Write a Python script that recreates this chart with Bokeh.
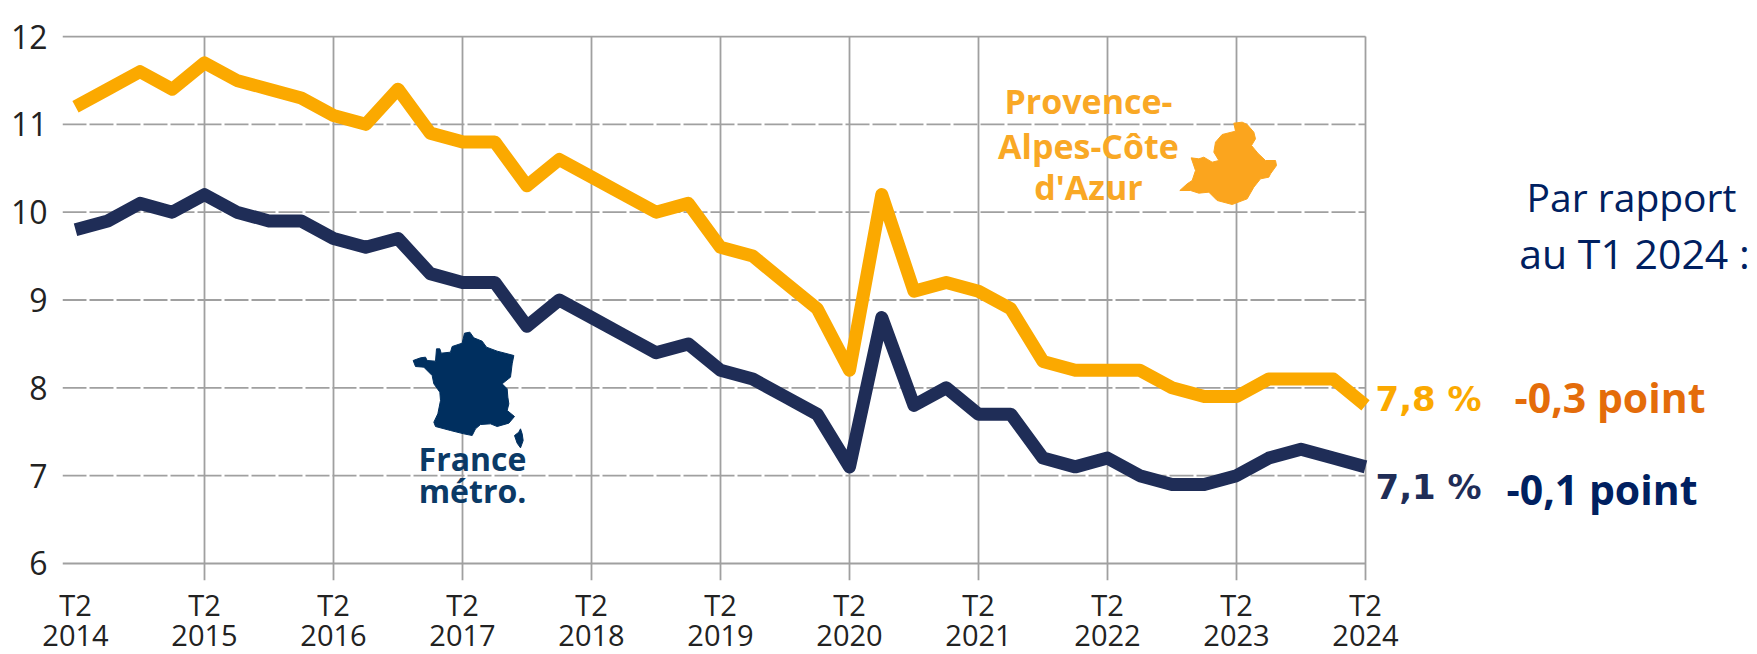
from bokeh.plotting import figure
from bokeh.embed import file_html
from bokeh.resources import INLINE
from bokeh.models import Range1d, FixedTicker, LinearAxis
from bokeh.core.properties import value

years = [2014, 2015, 2016, 2017, 2018, 2019, 2020, 2021, 2022, 2023, 2024]
y_ticks = [6, 7, 8, 9, 10, 11, 12]
paca = [11.2, 11.4, 11.6, 11.4, 11.7, 11.5, 11.4, 11.3, 11.1, 11.0, 11.4, 10.9,
        10.8, 10.8, 10.3, 10.6, 10.4, 10.2, 10.0, 10.1, 9.6, 9.5, 9.2, 8.9,
        8.2, 10.2, 9.1, 9.2, 9.1, 8.9, 8.3, 8.2, 8.2, 8.2, 8.0, 7.9,
        7.9, 8.1, 8.1, 8.1, 7.8]
france = [9.8, 9.9, 10.1, 10.0, 10.2, 10.0, 9.9, 9.9, 9.7, 9.6, 9.7, 9.3,
          9.2, 9.2, 8.7, 9.0, 8.8, 8.6, 8.4, 8.5, 8.2, 8.1, 7.9, 7.7,
          7.1, 8.8, 7.8, 8.0, 7.7, 7.7, 7.2, 7.1, 7.2, 7.0, 6.9, 6.9,
          7.0, 7.2, 7.3, 7.2, 7.1]
quarters = list(range(len(paca)))

# silhouettes (pixels inside a crop at 3x)
france_shape = [(38,120),(60,112),(75,110),(80,120),(105,122),(108,85),(118,85),(122,98),(150,95),(155,78),
    (185,68),(192,38),(208,35),(220,52),(245,62),(258,80),(290,92),(340,105),(335,130),(330,170),(305,190),
    (320,205),(322,230),(325,250),(320,270),(342,288),(325,308),(290,318),(270,310),(240,312),(225,325),
    (215,345),(190,340),(150,330),(105,318),(100,305),(112,280),(120,240),(118,215),(100,190),(95,165),
    (70,140),(45,138)]
corsica_shape = [(360,325),(365,340),(368,360),(360,382),(350,368),(342,345),(355,335)]
paca_shape = [(190,38),(215,35),(230,42),(250,65),(255,85),(243,105),(262,128),(285,150),(315,150),(318,165),
    (300,190),(295,200),(270,205),(250,230),(230,265),(185,282),(140,270),(115,245),(85,248),(60,240),
    (28,240),(50,220),(65,210),(75,180),(62,142),(85,145),(100,140),(125,155),(145,150),(130,125),(135,95),
    (155,72),(195,62)]

GOLD = "#FBA900"
NAVY = "#1F2D57"
GRID = "#A0A0A0"
TICK = "#222222"

PX_Q = 32.25
PX_U = 87.83
def dx(px):
    return (px - 75) / PX_Q
def dy(py):
    return 12 - (py - 36) / PX_U

# the frame runs to the right edge so that the notes can sit in it
p = figure(frame_width=1695, frame_height=545, min_border_left=62, min_border_right=0,
           min_border_top=35, min_border_bottom=74, output_backend="svg", toolbar_location=None,
           x_range=Range1d(dx(62), dx(1757)), y_range=Range1d(dy(580), dy(35)))
p.outline_line_color = None
p.grid.visible = False

tick_pos = [i * 4 for i in range(len(years))]

def style_x(ax, overrides, standoff):
    ax.ticker = FixedTicker(ticks=tick_pos)
    ax.major_label_overrides = overrides
    ax.axis_line_color = None
    ax.major_tick_line_color = None
    ax.minor_tick_line_color = None
    ax.major_tick_in = 0
    ax.major_tick_out = 0
    ax.major_label_standoff = standoff
    ax.major_label_text_font = "Open Sans"
    ax.major_label_text_font_size = "29px"
    ax.major_label_text_color = TICK

style_x(p.xaxis[0], {t: "T2" for t in tick_pos}, 4)
year_axis = LinearAxis()
style_x(year_axis, {t: str(y) for t, y in zip(tick_pos, years)}, -2)
p.add_layout(year_axis, "below")

yax = p.yaxis[0]
yax.ticker = FixedTicker(ticks=y_ticks)
yax.axis_line_color = None
yax.major_tick_line_color = None
yax.minor_tick_line_color = None
yax.major_tick_in = 0
yax.major_tick_out = 0
yax.major_label_standoff = 15
yax.major_label_text_font = "Open Sans"
yax.major_label_text_font_size = "32px"
yax.major_label_text_color = TICK

p.segment(x0=tick_pos[1:], x1=tick_pos[1:],
          y0=[dy(580)] * (len(tick_pos) - 1), y1=[12] * (len(tick_pos) - 1),
          line_color=GRID, line_width=1.8, level="underlay")
solid = [6, 12]
dashed = [7, 8, 9, 10, 11]
p.segment(x0=[dx(62)] * len(solid), x1=[40] * len(solid), y0=solid, y1=solid,
          line_color=GRID, line_width=1.8, level="underlay")
p.segment(x0=[dx(62)] * len(dashed), x1=[40] * len(dashed), y0=dashed, y1=dashed,
          line_color=GRID, line_width=1.8, line_dash="24 3", level="underlay")

p.line(quarters, paca, line_color=GOLD, line_width=13, line_join="round")
p.line(quarters, france, line_color=NAVY, line_width=13, line_join="round")

def outline(shape, ox, oy, color):
    p.patch([dx(ox + a / 3) for a, _ in shape], [dy(oy + b / 3) for _, b in shape],
            fill_color=color, line_color=color, line_width=1)

outline(france_shape, 400, 320, "#002F5F")
outline(corsica_shape, 400, 320, "#002F5F")
outline(paca_shape, 1170, 110, "#FBA51E")

def note(text, px, py, size, color, font="Open Sans", style="normal", align="left"):
    p.text([dx(px)], [dy(py)], text=[text], text_font=value(font), text_font_size=value(f"{size}px"),
           text_font_style=style, text_color=color, text_align=align, text_baseline="middle")

note("France", 472, 458, 32, "#0B3A66", style="bold", align="center")
note("métro.", 472, 490, 32, "#0B3A66", style="bold", align="center")
note("Provence-", 1088, 100, 34, "#F9A825", style="bold", align="center")
note("Alpes-Côte", 1088, 145, 34, "#F9A825", style="bold", align="center")
note("d'Azur", 1088, 186, 34, "#F9A825", style="bold", align="center")

note("7,8 %", 1375, 398, 34, GOLD, font="DejaVu Sans", style="bold")
note("7,1 %", 1375, 486, 34, NAVY, font="DejaVu Sans", style="bold")
note("-0,3 point", 1514, 396, 41, "#E46C0A", style="bold")
note("-0,1 point", 1506, 488, 41, "#002060", style="bold")
note("Par rapport", 1631, 196, 39, "#002060", align="center")
note("au T1 2024 :", 1634, 252, 41, "#002060", align="center")

open("out.html", "w").write(file_html(p, INLINE))
